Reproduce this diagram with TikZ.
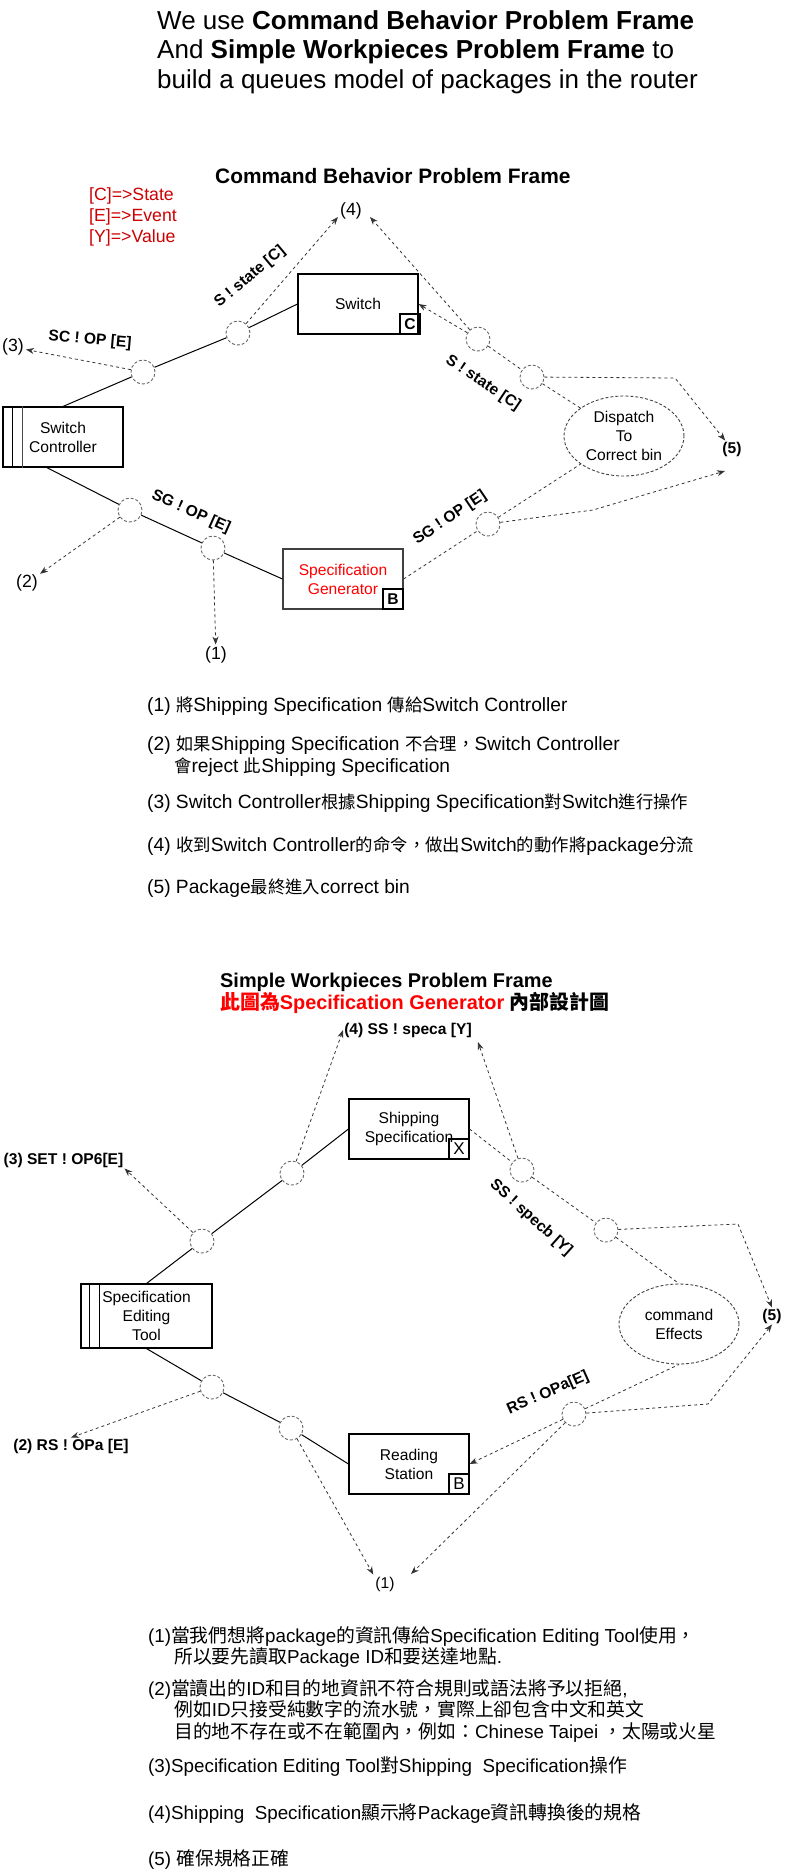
\documentclass[tikz,border=0pt]{standalone}
\usepackage{fontspec}
\setmainfont{Liberation Sans}
\newfontfamily\cjk{Noto Sans CJK TC}
\newfontfamily\cjks{Noto Sans CJK TC}[Scale=0.906]
\usetikzlibrary{arrows.meta,shapes.geometric,calc}
\definecolor{legred}{HTML}{CC0000}
\definecolor{brred}{HTML}{FF0000}
\newcommand\zh[1]{{\cjk #1}}
\newcommand\zs[1]{{\cjks #1}}
\begin{document}
\begin{tikzpicture}[x=1pt,y=-1pt,
  font=\fontsize{15.6}{19}\selectfont,
  box/.style={draw, line width=1.1pt, minimum width=120pt, minimum height=60pt, inner sep=0pt, align=center},
  tagbox/.style={draw, line width=1.1pt, minimum size=20pt, inner sep=0pt, anchor=south east},
  circ/.style={circle, draw=black!60, dash pattern=on 3pt off 2pt, line width=0.9pt, minimum size=24pt, inner sep=0pt},
  ell/.style={ellipse, draw=black!75, dash pattern=on 3pt off 2pt, line width=0.9pt, minimum width=120pt, minimum height=80pt, inner sep=0pt, align=center},
  sline/.style={draw=black, line width=1pt},
  dl/.style={draw=black!80, line width=0.8pt, dash pattern=on 3pt off 3pt},
  arr/.style={dl, -{Stealth[length=8pt,width=6pt]}},
  lab/.style={font=\bfseries\fontsize{15.6}{19}\selectfont, inner sep=1pt},
  num/.style={font=\fontsize{17.7}{21}\selectfont, inner sep=2pt},
  hdr/.style={anchor=base west, inner sep=0pt, font=\fontsize{26}{29}\selectfont},
  lst/.style={anchor=base west, inner sep=0pt, font=\fontsize{19.2}{22}\selectfont},
  lstb/.style={anchor=base west, inner sep=0pt, font=\fontsize{18.8}{22}\selectfont},
]
\useasboundingbox (0,0) rectangle (801,1869);

% header
\node[hdr] (h1) at (157,29) {We use \textbf{Command Behavior Problem Frame}};
\node[hdr] (h2) at (157,58.5) {And \textbf{Simple Workpieces Problem Frame} to};
\node[hdr] (h3) at (157,88) {build a queues model of packages in the router};

% ---------- diagram 1 ----------
\node[anchor=base west, inner sep=0pt, font=\bfseries\fontsize{20.9}{24}\selectfont] (t1) at (215,183) {Command Behavior Problem Frame};
\node[anchor=base west, inner sep=0pt, text=legred, font=\fontsize{17.7}{21}\selectfont] (lg1) at (89,200) {[C]=>State};
\node[anchor=base west, inner sep=0pt, text=legred, font=\fontsize{17.7}{21}\selectfont] (lg2) at (89,221) {[E]=>Event};
\node[anchor=base west, inner sep=0pt, text=legred, font=\fontsize{17.7}{21}\selectfont] (lg3) at (89,242) {[Y]=>Value};

\node[box] (sw) at (358,304) {Switch};
\node[tagbox, font=\bfseries\fontsize{15.6}{19}\selectfont] (swtag) at ([xshift=2pt]sw.south east) {C};
\node[box] (sc) at (63,437) {Switch\\Controller};
\draw[line width=1.1pt] ([xshift=10pt]sc.north west) -- ([xshift=10pt]sc.south west);
\draw[line width=1.1pt,black!70] ([xshift=20pt]sc.north west) -- ([xshift=20pt]sc.south west);
\node[box, draw=black!75, text=brred] (sg) at (343,579) {Specification\\Generator};
\node[tagbox, font=\bfseries\fontsize{15.6}{19}\selectfont] (sgtag) at (sg.south east) {B};
\node[ell] (dis) at (624,436) {Dispatch\\To\\Correct bin};

\node[circ] (c1) at (238,333) {};
\node[circ] (c2) at (143,372) {};
\node[circ] (c3) at (478,339) {};
\node[circ] (c4) at (532,377) {};
\node[circ] (c5) at (488,524) {};
\node[circ] (c6) at (130,510) {};
\node[circ] (c7) at (213,548) {};

\node[num] (l4) at (351,211) {(4)};
\node[num] (l3) at (13,347) {(3)};
\node[num] (l2) at (27,583) {(2)};
\node[num] (l1) at (216,655) {(1)};
\node[lab] (l5) at (732,449) {(5)};

\node[lab, rotate=-5] (lsc) at (90,340) {SC ! OP [E]};
\node[lab, rotate=40] (ls1) at (250,277) {S ! state [C]};
\node[lab, rotate=-34] (ls2) at (483,383) {S ! state [C]};
\node[lab, rotate=-24] (lsg1) at (191,512) {SG ! OP [E]};
\node[lab, rotate=34] (lsg2) at (450,518) {SG ! OP [E]};

\draw[sline] (sc.north) -- (c2) -- (c1) -- (sw.west);
\draw[sline] (sc.-118) -- (c6) -- (c7) -- (sg.west);
\draw[arr] (c2) -- (l3);
\coordinate (t4l) at (338,217);
\coordinate (t4r) at (370,217);
\draw[arr] (c1) -- (t4l);
\draw[arr] (c3) -- (t4r);
\draw[arr] (c3) -- (sw.east);
\draw[arr] (c6) -- (l2);
\draw[arr] (c7) -- (l1);
\draw[dl] (c3) -- (c4);
\draw[dl] (c4) -- (dis);
\coordinate (b5a) at (675,378);
\draw[arr] (c4) -- (b5a) -- (l5);
\draw[dl] (sg.east) -- (c5);
\draw[dl] (c5) -- (dis);
\coordinate (b5b) at (593,510);
\coordinate (t5b) at (725,471);
\draw[arr] (c5) -- (b5b) -- (t5b);

% list 1
\node[lst] (a1) at (147,711) {(1) \zs{將}Shipping Specification \zs{傳給}Switch Controller};
\node[lst] (a2) at (147,750) {(2) \zs{如果}Shipping Specification \zs{不合理，}Switch Controller};
\node[lst] (a2b) at (174,772) {\zs{會}reject \zs{此}Shipping Specification};
\node[lst] (a3) at (147,808) {(3) Switch Controller\zs{根據}Shipping Specification\zs{對}Switch\zs{進行操作}};
\node[lst] (a4) at (147,851) {(4) \zs{收到}Switch Controller\zs{的命令，做出}Switch\zs{的動作將}package\zs{分流}};
\node[lst] (a5) at (147,893) {(5) Package\zs{最終進入}correct bin};

% ---------- diagram 2 ----------
\node[anchor=base west, inner sep=0pt, font=\bfseries\fontsize{19.9}{24}\selectfont] (t2a) at (220,987) {Simple Workpieces Problem Frame};
\node[anchor=base west, inner sep=0pt, font=\bfseries\fontsize{19.9}{24}\selectfont] (t2b) at (220,1009) {\textcolor{brred}{\zh{此圖為}Specification Generator} \zh{內部設計圖}};

\node[box] (ss) at (409,1129) {Shipping\\Specification};
\node[tagbox, font=\fontsize{17}{19}\selectfont] (sstag) at (ss.south east) {X};
\node[box] (rs) at (409,1464) {Reading\\Station};
\node[tagbox, font=\fontsize{17}{19}\selectfont] (rstag) at (rs.south east) {B};
\node[box, minimum width=131pt, minimum height=64pt] (set) at (146.5,1316) {Specification\\Editing\\Tool};
\draw[line width=1.1pt] ([xshift=9pt]set.north west) -- ([xshift=9pt]set.south west);
\draw[line width=1.1pt] ([xshift=19pt]set.north west) -- ([xshift=19pt]set.south west);
\node[ell] (ce) at (679,1324) {command\\Effects};

\node[circ] (cA) at (292,1173) {};
\node[circ] (cB) at (202,1241) {};
\node[circ] (cC) at (522,1170) {};
\node[circ] (cD) at (606,1230) {};
\node[circ] (cE) at (212,1387) {};
\node[circ] (cF) at (291,1428) {};
\node[circ] (cG) at (574,1414) {};

\node[lab] (l4b) at (408,1030) {(4) SS ! speca [Y]};
\node[lab] (l3b) at (63.5,1160) {(3) SET ! OP6[E]};
\node[lab] (l2b) at (71,1446) {(2) RS ! OPa [E]};
\node[num, font=\fontsize{15.6}{19}\selectfont] (l1b) at (385,1584) {(1)};
\node[lab] (l5b) at (772,1316) {(5)};
\node[lab, rotate=-42] (lss) at (531,1218) {SS ! specb [Y]};
\node[lab, rotate=24] (lrs) at (548,1393) {RS ! OPa[E]};

\draw[sline] (set.north) -- (cB) -- (cA) -- (ss.west);
\draw[sline] (set.south) -- (cE) -- (cF) -- (rs.west);
\draw[arr] (cB) -- (l3b.south east);
\draw[arr] (cA) -- (l4b.west);
\coordinate (t4b) at (478,1042);
\draw[arr] (cC) -- (t4b);
\draw[dl] (ss.east) -- (cC) -- (cD);
\draw[dl] (cD) -- (ce.north);
\coordinate (b5c) at (738,1224);
\draw[arr] (cD) -- (b5c) -- (l5b.north);
\draw[arr] (cE) -- (l2b.north);
\draw[arr] (cF) -- (l1b.north west);
\coordinate (t1r) at (411,1574);
\draw[arr] (cG) -- (t1r);
\draw[arr] (cG) -- (rs.east);
\draw[dl] (cG) -- (ce.south);
\coordinate (b5d) at (708,1404);
\draw[arr] (cG) -- (b5d) -- (l5b.south);

% list 2
\node[lstb] (p1) at (148,1642) {(1)\zh{當我們想將}package\zh{的資訊傳給}Specification Editing Tool\zh{使用，}};
\node[lstb] (p1b) at (174,1663) {\zh{所以要先讀取}Package ID\zh{和要送達地點}.};
\node[lstb] (p2) at (148,1695.5) {(2)\zh{當讀出的}ID\zh{和目的地資訊不符合規則或語法將予以拒絕},};
\node[lstb] (p2b) at (174,1716) {\zh{例如}ID\zh{只接受純數字的流水號，實際上卻包含中文和英文}};
\node[lstb] (p2c) at (174,1738) {\zh{目的地不存在或不在範圍內，例如：}Chinese Taipei \zh{，太陽或火星}};
\node[lstb] (p3) at (148,1772) {(3)Specification Editing Tool\zh{對}Shipping~ Specification\zh{操作}};
\node[lstb] (p4) at (148,1819.5) {(4)Shipping~ Specification\zh{顯示將}Package\zh{資訊轉換後的規格}};
\node[lstb] (p5) at (148,1865) {(5) \zh{確保規格正確}};
\end{tikzpicture}
\end{document}
